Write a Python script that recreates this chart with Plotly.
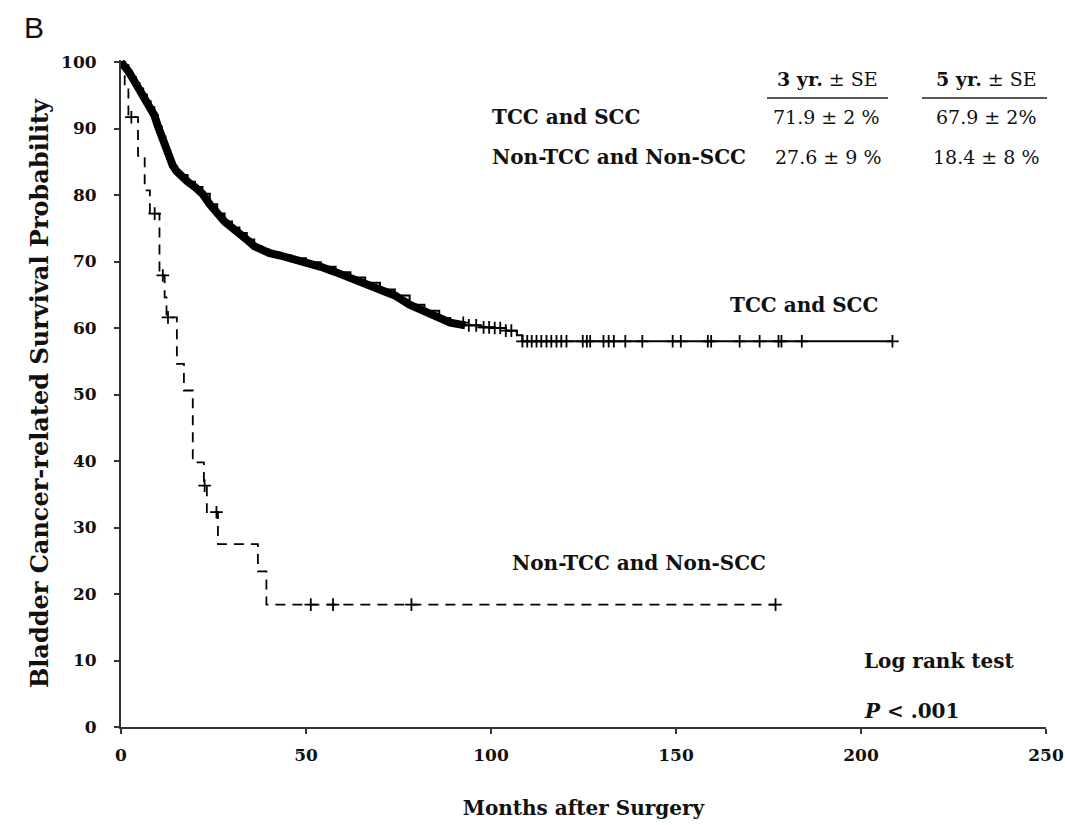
import numpy as np
import plotly.graph_objects as go

# ---------------- data ----------------
# TCC and SCC: Kaplan-Meier step points (months, survival %)
tcc_time = [0, 1, 2, 3, 4, 5, 6, 7, 8, 9, 10, 11, 12, 13, 14, 15, 16, 18, 20, 22,
            24, 26, 28, 30, 32, 34, 36, 38, 40, 43, 46, 50, 54, 58, 62, 66, 70, 74,
            78, 82, 86, 89, 93, 97, 101, 104, 107, 108.5, 208.5]
tcc_surv = [100, 99.5, 98.6, 97.7, 96.8, 96.0, 95.1, 94.1, 93.2, 92.0, 90.3, 88.8,
            87.0, 85.4, 84.4, 83.6, 83.0, 82.0, 81.2, 80.2, 78.6, 77.2, 76.0, 75.1,
            74.3, 73.3, 72.3, 71.8, 71.3, 70.9, 70.5, 69.9, 69.2, 68.4, 67.6, 66.8,
            65.8, 64.9, 63.5, 62.6, 61.5, 60.8, 60.4, 60.1, 60.0, 59.6, 58.9, 58.0, 58.0]
tcc_censor = [92.5, 94, 96, 98, 99.5, 101, 102.5, 104, 105.5, 108.5, 109.8, 111,
              112.3, 113.6, 115, 116.3, 117.7, 119, 120.4, 124.8, 125.9, 126.8,
              130.4, 131.8, 133.2, 136.3, 140.9, 149.1, 151.3, 158.6, 159.5, 167.2,
              172.6, 177.7, 178.5, 184.0, 208.5]
tcc_dense_until = 93  # heavy band of censor marks up to this month

# Non-TCC and Non-SCC
nontcc_time = [0, 1.0, 2.0, 4.6, 6.4, 7.8, 10.4, 11.8, 12.3, 15.1, 17.0, 19.4,
               22.4, 23.2, 26.2, 37.0, 39.3, 176.9]
nontcc_surv = [100, 96, 91.7, 85.9, 80.7, 77.2, 67.9, 64.6, 61.6, 54.6, 50.6, 39.8,
               36.3, 32.3, 27.5, 23.4, 18.4, 18.4]
nontcc_censor = [2.8, 9.1, 11.3, 12.7, 22.6, 25.8, 51.3, 57.3, 78.5, 176.9]

x_ticks = [0, 50, 100, 150, 200, 250]
y_ticks = [0, 10, 20, 30, 40, 50, 60, 70, 80, 90, 100]

table_cols = ["<b>3 yr.</b> ± SE", "<b>5 yr.</b> ± SE"]
table_rows = ["TCC and SCC", "Non-TCC and Non-SCC"]
table_vals = [["71.9 ± 2 %", "67.9 ± 2%"], ["27.6 ± 9 %", "18.4 ± 8 %"]]


def step_at(times, survs, t):
    times = np.asarray(times)
    idx = np.searchsorted(times, t, side="right") - 1
    return [survs[i] for i in np.atleast_1d(idx)]


SERIF = "DejaVu Serif"
W, H = 1065, 825
# plot area in page pixels: x 121..1046, y 60..727
L, T = 121, 60
R = W - 1046
B = H - 727
PW, PH = W - L - R, H - T - B


def px(x):
    return (x - L) / PW


def py(y):
    return (H - B - y) / PH


fig = go.Figure()

# heavy band (dense censoring) for TCC and SCC
dense_t = [t for t in tcc_time if t <= tcc_dense_until]
dense_s = tcc_surv[:len(dense_t)]
fig.add_trace(go.Scatter(x=dense_t, y=dense_s, mode="lines", line_shape="linear",
                         line=dict(color="black", width=8), showlegend=False,
                         hoverinfo="skip"))
fig.add_trace(go.Scatter(x=tcc_time, y=tcc_surv, mode="lines", line_shape="hv",
                         line=dict(color="black", width=2), name="TCC and SCC",
                         showlegend=False))
fig.add_trace(go.Scatter(x=tcc_censor, y=step_at(tcc_time, tcc_surv, tcc_censor),
                         mode="markers",
                         marker=dict(symbol="cross-thin-open", size=9, color="black",
                                     line=dict(color="black", width=1.8)),
                         showlegend=False))

# Non-TCC and Non-SCC
fig.add_trace(go.Scatter(x=nontcc_time, y=nontcc_surv, mode="lines", line_shape="hv",
                         line=dict(color="black", width=1.8, dash="10px,7px"),
                         name="Non-TCC and Non-SCC", showlegend=False))
fig.add_trace(go.Scatter(x=nontcc_censor, y=step_at(nontcc_time, nontcc_surv, nontcc_censor),
                         mode="markers",
                         marker=dict(symbol="cross-thin-open", size=9, color="black",
                                     line=dict(color="black", width=1.8)),
                         showlegend=False))

ann = []


def text(x, y, s, size=20, xanchor="center", bold=True, family=SERIF, color="#111"):
    ann.append(dict(x=px(x), y=py(y), xref="paper", yref="paper",
                    text=(f"<b>{s}</b>" if bold else s),
                    showarrow=False, xanchor=xanchor, yanchor="middle",
                    font=dict(family=family, size=size, color=color)))


text(22, 27, "B", size=30, xanchor="left", bold=False, family="Liberation Sans")
# table
text(827, 79, table_cols[0], size=19, bold=False)
text(986, 79, table_cols[1], size=19, bold=False)
text(490, 117, table_rows[0], xanchor="left")
text(490, 157, table_rows[1], xanchor="left")
text(826, 117, table_vals[0][0], size=19, bold=False)
text(986, 117, table_vals[0][1], size=19, bold=False)
text(828, 157, table_vals[1][0], size=19, bold=False)
text(986, 157, table_vals[1][1], size=19, bold=False)
# curve labels
text(728, 305, "TCC and SCC", xanchor="left")
text(510, 563, "Non-TCC and Non-SCC", xanchor="left")
text(862, 661, "Log rank test", xanchor="left")
text(862, 711, "<i>P</i> < .001", xanchor="left")

shapes = [
    dict(type="line", xref="paper", yref="paper", x0=px(767), x1=px(888), y0=py(98), y1=py(98),
         line=dict(color="#222", width=1.5)),
    dict(type="line", xref="paper", yref="paper", x0=px(922), x1=px(1047), y0=py(98), y1=py(98),
         line=dict(color="#222", width=1.5)),
]

axis_font = dict(family=SERIF, size=17, color="#111")
fig.update_layout(
    width=W, height=H,
    margin=dict(l=L, r=R, t=T, b=B, pad=0, autoexpand=False),
    paper_bgcolor="white", plot_bgcolor="white",
    annotations=ann, shapes=shapes,
    xaxis=dict(range=[0, 250], tickvals=x_ticks, ticktext=[f"<b>{v}</b>" for v in x_ticks],
               automargin=False,
               showgrid=False, zeroline=False, showline=True, linecolor="#333", linewidth=2,
               ticks="outside", ticklen=5, tickcolor="#333", tickwidth=1.5,
               tickfont=axis_font, ticklabelstandoff=7, ticklabeloverflow="allow",
               title=dict(text="<b>Months after Surgery</b>",
                          font=dict(family=SERIF, size=20, color="#111"), standoff=37)),
    yaxis=dict(range=[0, 100.3], tickvals=y_ticks, ticktext=[f"<b>{v}</b>" for v in y_ticks],
               automargin=False,
               showgrid=False, zeroline=False, showline=True, linecolor="#333", linewidth=2,
               ticks="outside", ticklen=5, tickcolor="#333", tickwidth=1.5,
               tickfont=axis_font, ticklabelstandoff=14,
               title=dict(text="<b>Bladder Cancer-related Survival Probability</b>",
                          font=dict(family=SERIF, size=24, color="#111"), standoff=6)),
)

fig.write_html("out.html", config={"displayModeBar": False},
               post_script="document.body.style.margin='0';")
